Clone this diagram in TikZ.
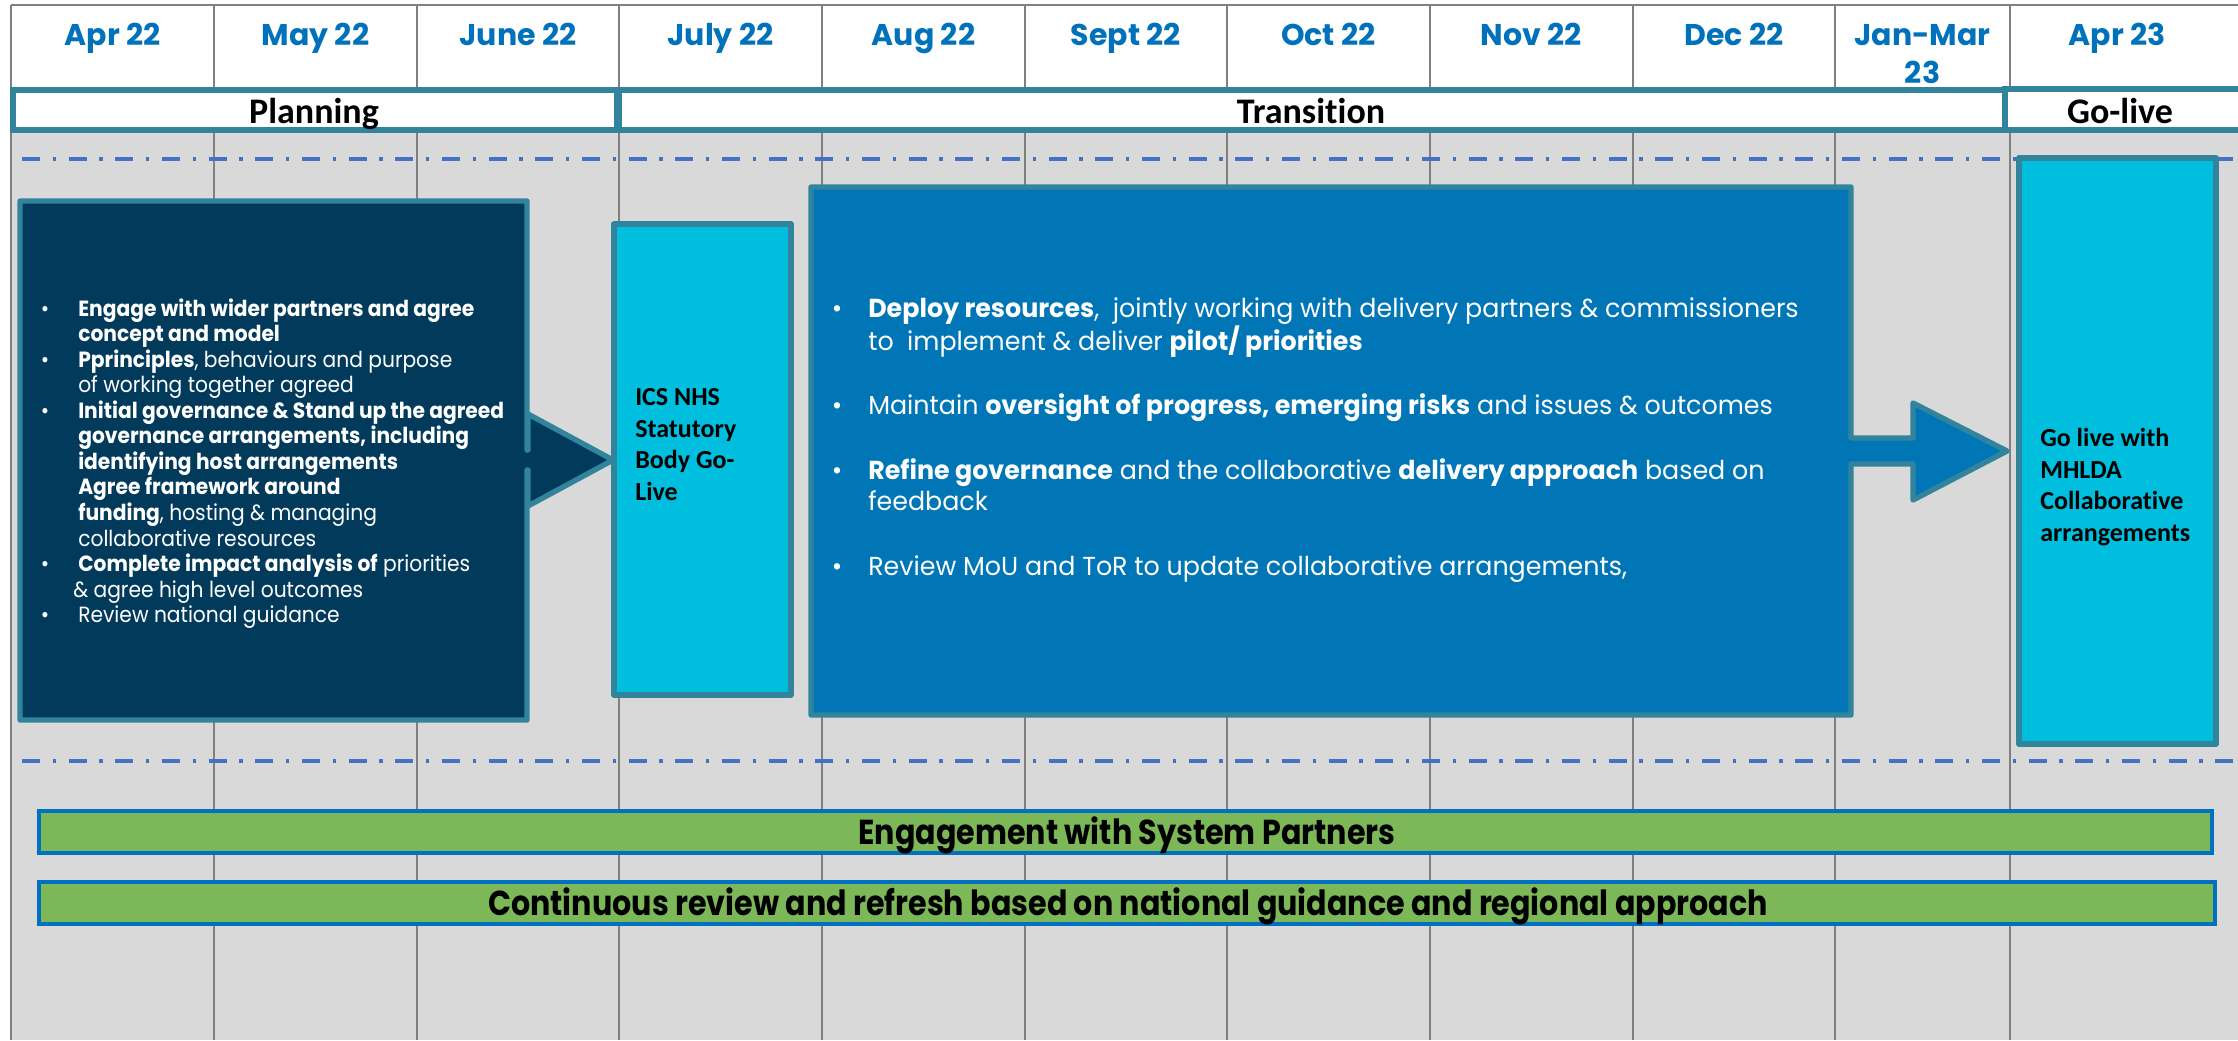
\documentclass[tikz,border=0pt]{standalone}
\usepackage{fontspec}
\setmainfont{Poppins}
\newfontfamily\calib[Ligatures=NoCommon]{Carlito}
\newfontfamily\hfont{Poppins}
\newfontfamily\pfont[FakeStretch=0.92]{Poppins}
\newfontfamily\tfont[FakeStretch=0.975]{Poppins}
\newfontfamily\gfont[FakeStretch=0.87]{Poppins}
\definecolor{hdrblue}{RGB}{0,114,188}
\definecolor{gridgray}{RGB}{128,128,128}
\definecolor{tealb}{RGB}{49,132,155}
\definecolor{bgray}{RGB}{217,217,217}
\definecolor{dashblue}{RGB}{68,114,196}
\definecolor{navyb}{RGB}{2,58,92}
\definecolor{cyanb}{RGB}{0,190,222}
\definecolor{midblue}{RGB}{0,118,182}
\definecolor{greenb}{RGB}{124,184,87}
\definecolor{barblue}{RGB}{0,112,192}
\tikzset{
 gridline/.style={draw=gridgray, line width=1.5pt},
 phasebox/.style={draw=tealb, fill=white, line width=4.5pt},
 phasetext/.style={font=\calib\bfseries\fontsize{27}{30}\selectfont, text=black, inner sep=0pt, anchor=base},
 month/.style={font=\hfont\bfseries\fontsize{22.5}{29}\selectfont, text=hdrblue, inner sep=0pt, anchor=base},
 dashdot/.style={draw=dashblue, line width=3pt, dash pattern=on 13.5pt off 9.5pt on 2.5pt off 9.5pt},
 boxline/.style={draw=tealb, line width=4pt, line join=round},
 ptext/.style={anchor=base west, inner sep=0pt, text=white, font=\pfont\fontsize{16.5}{19}\selectfont},
 pbul/.style={anchor=base, inner sep=0pt, text=white, font=\pfont\fontsize{16.5}{19}\selectfont},
 ttext/.style={anchor=base west, inner sep=0pt, text=white, font=\tfont\fontsize{19.5}{23}\selectfont},
 tbul/.style={anchor=base, inner sep=0pt, text=white, font=\tfont\fontsize{19.5}{23}\selectfont},
 golive/.style={font=\calib\bfseries\fontsize{19.5}{23.7}\selectfont, text=black, align=left, inner sep=0pt, anchor=west},
 greenbar/.style={draw=barblue, fill=greenb, line width=3pt},
 bartext/.style={font=\gfont\bfseries\fontsize{26}{30}\selectfont, text=black, inner sep=0pt}
}
\begin{document}
\begin{tikzpicture}[x=0.75pt,y=-0.75pt]
\useasboundingbox (0,0) rectangle (2238,1040);
\fill[white] (0,0) rectangle (2238,1040);
\fill[bgray] (11,132) rectangle (2238,1040);
% grid
\foreach \x in {11,214,417,619,822,1025,1227,1430,1633,1835,2010}
  \draw[gridline] (\x,5) -- (\x,1040);
\draw[gridline] (11,5) -- (2238,5);
% months
\node[month] (m1) at (112.5,45) {Apr 22};
\node[month] (m2) at (315.5,45) {May 22};
\node[month] (m3) at (518,45) {June 22};
\node[month] (m4) at (720.5,45) {July 22};
\node[month] (m5) at (923.5,45) {Aug 22};
\node[month] (m6) at (1126,45) {Sept 22};
\node[month] (m7) at (1328.5,45) {Oct 22};
\node[month] (m8) at (1531.5,45) {Nov 22};
\node[month] (m9) at (1734,45) {Dec 22};
\node[month] (m10) at (1922.5,45) {Jan-Mar};
\node[month] (m10b) at (1922.5,83) {23};
\node[month] (m11) at (2117,45) {Apr 23};
% phases
\draw[phasebox] (13,90) rectangle (617,130);
\draw[phasebox] (619,90) rectangle (2005,130);
\draw[phasebox] (2005,89) rectangle (2250,130);
\node[phasetext] (ph1) at (314,123) {Planning};
\node[phasetext] (ph2) at (1311,123) {Transition};
\node[phasetext] (ph3) at (2120,123) {Go-live};
% dash-dot lines
\draw[dashdot] (22,159) -- (2238,159);
\draw[dashdot] (22,761) -- (2238,761);
% planning box with arrow
\filldraw[boxline, fill=navyb] (20,201) -- (527,201) -- (527,450) -- (528,450) -- (528,414) -- (613,460) -- (528,506) -- (528,470) -- (527,470) -- (527,720) -- (20,720) -- cycle;
\node[pbul] (pb1) at (45,316) {\textbullet};
\node[ptext] (p1) at (78,316) {\bfseries Engage with wider partners and agree};
\node[ptext] (p2) at (78,341.6) {\bfseries concept and model};
\node[pbul] (pb3) at (45,367.1) {\textbullet};
\node[ptext] (p3) at (78,367.1) {\textbf{Pprinciples}, behaviours and purpose};
\node[ptext] (p4) at (78,392.7) {of working together agreed};
\node[pbul] (pb5) at (45,418.2) {\textbullet};
\node[ptext] (p5) at (78,418.2) {\bfseries Initial governance \& Stand up the agreed};
\node[ptext] (p6) at (78,443.8) {\bfseries governance arrangements, including};
\node[ptext] (p7) at (78,469.3) {\bfseries identifying host arrangements};
\node[ptext] (p8) at (78,494.9) {\bfseries Agree framework around};
\node[ptext] (p9) at (78,520.4) {\textbf{funding}, hosting \& managing};
\node[ptext] (p10) at (78,546) {collaborative resources};
\node[pbul] (pb11) at (45,571.5) {\textbullet};
\node[ptext] (p11) at (78,571.5) {\textbf{Complete impact analysis of} priorities};
\node[ptext] (p12) at (73,597.1) {\& agree high level outcomes};
\node[pbul] (pb13) at (45,622.6) {\textbullet};
\node[ptext] (p13) at (78,622.6) {Review national guidance};
% ICS box
\filldraw[boxline, fill=cyanb] (614,224) rectangle (791,695);
\node[golive] (ics) at (635,444.5) {ICS NHS\\Statutory\\Body Go-\\Live};
% transition box with arrow
\filldraw[boxline, fill=midblue] (811,187) -- (1851,187) -- (1851,438) -- (1913,438) -- (1913,403) -- (2007,451) -- (1913,500) -- (1913,464) -- (1851,464) -- (1851,715) -- (811,715) -- cycle;
\node[tbul] (qb1) at (837,317) {\textbullet};
\node[ttext] (q1) at (868,317) {\textbf{Deploy resources},\ \ jointly working with delivery partners \& commissioners};
\node[ttext] (q2) at (868,350) {to\ \ implement \& deliver \textbf{pilot/ priorities}};
\node[tbul] (qb3) at (837,414) {\textbullet};
\node[ttext] (q3) at (868,414) {Maintain \textbf{oversight of progress, emerging risks} and issues \& outcomes};
\node[tbul] (qb4) at (837,479) {\textbullet};
\node[ttext] (q4) at (868,479) {\textbf{Refine governance} and the collaborative \textbf{delivery approach} based on};
\node[ttext] (q5) at (868,510) {feedback};
\node[tbul] (qb6) at (837,575) {\textbullet};
\node[ttext] (q6) at (868,575) {Review MoU and ToR to update collaborative arrangements,};
% go-live box
\filldraw[boxline, fill=cyanb] (2019,158) rectangle (2216,744);
\node[golive] (gl) at (2040,487) {Go live with\\MHLDA\\Collaborative\\arrangements};
% green bars
\draw[greenbar] (39,811) rectangle (2212,853);
\node[bartext] (b1) at (1127,835) {Engagement with System Partners};
\draw[greenbar] (39,882) rectangle (2215,924);
\node[bartext] (b2) at (1128,906) {Continuous review and refresh based on national guidance and regional approach};
\end{tikzpicture}
\end{document}
